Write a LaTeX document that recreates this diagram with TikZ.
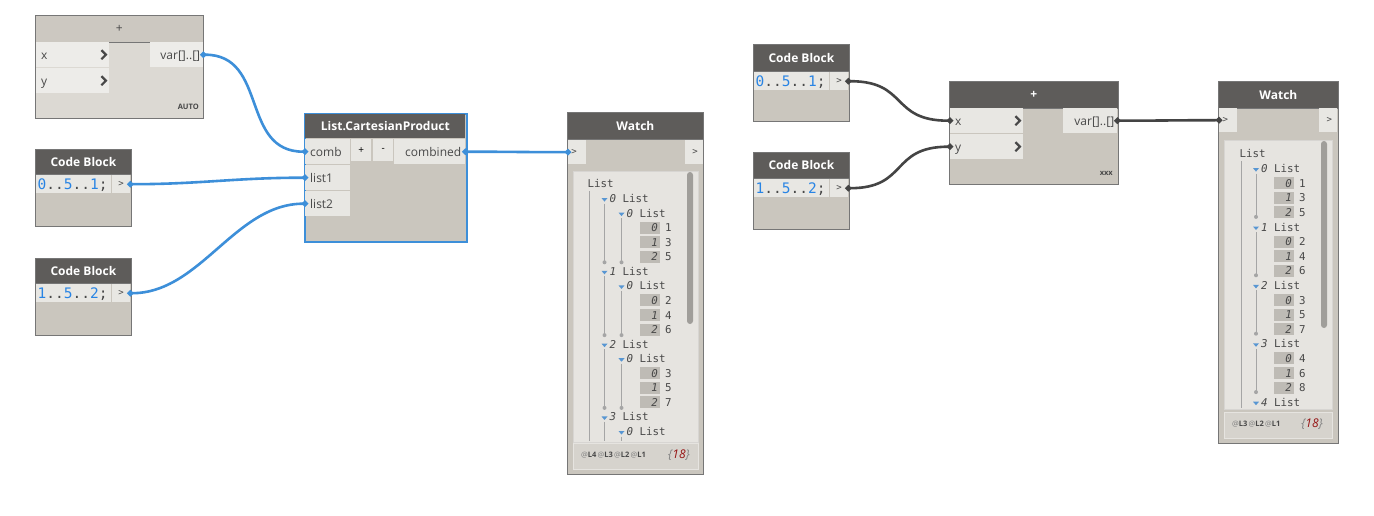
\documentclass[tikz,border=0pt]{standalone}
\usepackage{fontspec}
\setmainfont{Open Sans}
\newfontfamily\codefont{DejaVu Sans Mono}
\usetikzlibrary{arrows.meta}

\definecolor{headdark}{RGB}{94,92,90}
\definecolor{headlight}{RGB}{204,200,193}
\definecolor{bodygray}{RGB}{202,198,190}
\definecolor{bodylight}{RGB}{220,217,211}
\definecolor{portlight}{RGB}{232,231,227}
\definecolor{portpale}{RGB}{237,236,233}
\definecolor{framegray}{RGB}{118,118,118}
\definecolor{wireblue}{RGB}{61,143,217}
\definecolor{wiredark}{RGB}{68,68,68}
\definecolor{codeblue}{RGB}{40,132,228}
\definecolor{textgray}{RGB}{72,72,72}
\definecolor{panelgray}{RGB}{230,228,224}
\definecolor{footgray}{RGB}{214,211,205}
\definecolor{idxgray}{RGB}{190,187,181}
\definecolor{linegray}{RGB}{165,165,165}
\definecolor{triblue}{RGB}{88,150,210}
\definecolor{scrollgray}{RGB}{160,158,154}
\definecolor{countred}{RGB}{150,20,20}

\newcommand{\cbnum}[1]{\textcolor{codeblue}{#1}}
\newcommand{\lvtag}[1]{\textcolor{gray}{\mdseries @}L#1\,}
\newcommand{\itemcount}[1]{\textit{\textcolor{gray}{\{}\textcolor{countred}{#1}\textcolor{gray}{\}}}}

\tikzset{
  box/.style 2 args={anchor=north west, inner sep=0pt, minimum width=#1, minimum height=#2, draw=framegray, line width=0.8pt, fill=bodygray},
  head/.style 2 args={anchor=north west, inner sep=0pt, minimum width=#1, minimum height=#2, draw=framegray, line width=0.8pt, fill=headdark, text=white, font=\bfseries\fontsize{12}{14}\selectfont},
  port/.style 2 args={anchor=north west, inner sep=0pt, minimum width=#1, minimum height=#2, fill=portlight},
  ptext/.style={anchor=base west, inner sep=0pt, text=textgray, font=\fontsize{12}{14}\selectfont},
  code/.style={anchor=base west, inner sep=0pt, text=textgray, font=\codefont\fontsize{14.5}{16}\selectfont},
  pin/.style={inner sep=0pt, text=textgray, font=\codefont\fontsize{9}{10}\selectfont},
  tree/.style={inner sep=0pt, text=textgray, font=\codefont\fontsize{10.8}{12}\selectfont},
  tag/.style={inner sep=0pt, text=textgray, font=\bfseries\fontsize{7.5}{9}\selectfont},
  chev/.style={line width=2.2pt, draw=textgray},
  bwire/.style={line width=2.6pt, draw=wireblue, {Circle[length=6pt]}-{Circle[length=6pt]}, shorten <=-3pt, shorten >=-3pt},
  dwire/.style={bwire, draw=wiredark},
  treeline/.style={draw=linegray, line width=0.8pt},
}

\begin{document}
\begin{tikzpicture}[x=1pt, y=-1pt]
\fill[white] (0,0) rectangle (1374,516);
\useasboundingbox (0,0) rectangle (1374,516);

% left + node
\node[box={168}{103}, fill=bodylight] (addL) at (35,15) {};
\node[head={168}{27}, fill=headlight, text=textgray, font=\fontsize{12}{14}\selectfont] (addLhead) at (addL.north west) {+};
\node[port={73}{25}, fill=portpale] (addLx) at (36,42) {};
\node[port={73}{25}, fill=portpale] (addLy) at (36,68) {};
\node[port={53}{25}, fill=portpale] (addLout) at (150,42) {};
\node[ptext] (addLxt) at ([shift={(5,4.5)}]addLx.west) {x};
\node[ptext] (addLyt) at ([shift={(5,4.5)}]addLy.west) {y};
\draw[chev] ([shift={(-8,-4.5)}]addLx.east) -- ++(4.5,4.5) -- ++(-4.5,4.5);
\draw[chev] ([shift={(-8,-4.5)}]addLy.east) -- ++(4.5,4.5) -- ++(-4.5,4.5);
\node[ptext, anchor=base east] (addLoutt) at ([shift={(-3,4.5)}]addLout.east) {var[]..[]};
\node[tag, anchor=east] (addLauto) at (199,107) {AUTO};

% code blocks, left
\node[box={96}{77}] (cbA) at (35,149) {};
\node[head={96}{25}] (cbAhead) at (cbA.north west) {Code Block};
\node[port={75}{18}] (cbAcode) at (36,175) {};
\node[port={18}{18}] (cbAout) at (112,175) {};
\node[code] (cbAtxt) at ([shift={(1.5,5)}]cbAcode.west) {\cbnum{0}..\cbnum{5}..\cbnum{1};};
\node[pin] (cbApin) at (cbAout.center) {>};

\node[box={96}{77}] (cbB) at (35,258) {};
\node[head={96}{25}] (cbBhead) at (cbB.north west) {Code Block};
\node[port={75}{18}] (cbBcode) at (36,284) {};
\node[port={18}{18}] (cbBout) at (112,284) {};
\node[code] (cbBtxt) at ([shift={(1.5,5)}]cbBcode.west) {\cbnum{1}..\cbnum{5}..\cbnum{2};};
\node[pin] (cbBpin) at (cbBout.center) {>};

% List.CartesianProduct
\node[box={162}{128}, draw=wireblue, line width=2pt] (cp) at (304,113) {};
\node[head={160}{24}, draw=none] (cphead) at (305,114) {List.CartesianProduct};
\node[port={45}{25}] (cpComb) at (305,139) {};
\node[port={45}{25}] (cpL1) at (305,165) {};
\node[port={45}{25}] (cpL2) at (305,191) {};
\node[port={20}{22}, font=\fontsize{10}{12}\selectfont] (cpAdd) at (351,139) {+};
\node[port={20}{22}, font=\fontsize{10}{12}\selectfont] (cpDel) at (373,139) {-};
\node[port={71}{25}] (cpOut) at (394,139) {};
\node[ptext] (cpCombt) at ([shift={(5,4.5)}]cpComb.west) {comb};
\node[ptext] (cpL1t) at ([shift={(5,4.5)}]cpL1.west) {list1};
\node[ptext] (cpL2t) at ([shift={(5,4.5)}]cpL2.west) {list2};
\node[ptext, anchor=base east] (cpOutt) at ([shift={(-4,4.5)}]cpOut.east) {combined};

% left watch
\node[box={136}{362}] (wL) at (567,112) {};
\node[head={136}{27}] (wLhead) at (wL.north west) {Watch};
\node[port={18}{24}] (wLin) at (568,140) {};
\node[port={18}{24}] (wLout) at (685,140) {};
\node[pin] (wLinpin) at ([xshift=-3]wLin.center) {>};
\node[pin] (wLoutpin) at ([xshift=1]wLout.center) {>};
\node[box={125}{271}, fill=panelgray, draw=panelgray!85!gray] (wLpanel) at (573,171) {};
\node[box={125}{26}, fill=footgray, draw=panelgray] (wLfoot) at (573,443) {};
\fill[scrollgray, rounded corners=3pt] (687,172) rectangle (693,324);
\draw[treeline] (589,191) -- (589,441);
\node[tree, anchor=base west] (wLroot) at (587.5,188) {List};
\foreach \k/\lv/\t in {1/1/0,2/2/0,6/1/1,7/2/0,11/1/2,12/2/0,16/1/3,17/2/0} {
  \pgfmathsetmacro\ry{184+14.56*\k}
  \pgfmathsetmacro\tx{587.5+17*\lv}
  \fill[triblue] (\tx-3,\ry-0.5) -- (\tx+3,\ry-0.5) -- (\tx,\ry+3) -- cycle;
  \node[tree, anchor=base west] (wLlist\k) at (\tx+5,\ry+4) {\textit{\t} List};
}
\foreach \k/\i/\v in {3/0/1,4/1/3,5/2/5,8/0/2,9/1/4,10/2/6,13/0/3,14/1/5,15/2/7} {
  \pgfmathsetmacro\ry{184+14.56*\k}
  \fill[idxgray] (640,\ry-6) rectangle (660,\ry+6);
  \node[tree, anchor=base east] (wLidx\k) at (658,\ry+4) {\textit{\i}};
  \node[tree, anchor=base west] (wLval\k) at (665,\ry+4) {\v};
}
\foreach \a/\b/\lv in {1/5/1,6/10/1,11/15/1,2/5/2,7/10/2,12/15/2} {
  \pgfmathsetmacro\lx{587.5+17*\lv}
  \draw[treeline] (\lx,{184+14.56*\a+5}) -- (\lx,{184+14.56*\b+5});
  \fill[linegray] (\lx,{184+14.56*\b+5.5}) circle (2);
}
\draw[treeline] (604.5,{184+14.56*16+5}) -- (604.5,441);
\draw[treeline] (621.5,{184+14.56*17+5}) -- (621.5,441);
\node[tag, anchor=west] (wLtags) at (581,455) {\lvtag{4}\lvtag{3}\lvtag{2}\lvtag{1}};
\node[inner sep=0pt, anchor=east, font=\fontsize{12}{14}\selectfont] (wLcount) at (690,455) {\itemcount{18}};

% code blocks, right
\node[box={96}{77}] (cbC) at (753,44) {};
\node[head={96}{27}] (cbChead) at (cbC.north west) {Code Block};
\node[port={75}{18}] (cbCcode) at (754,72) {};
\node[port={18}{18}] (cbCout) at (830,72) {};
\node[code] (cbCtxt) at ([shift={(1.5,5)}]cbCcode.west) {\cbnum{0}..\cbnum{5}..\cbnum{1};};
\node[pin] (cbCpin) at (cbCout.center) {>};

\node[box={96}{77}] (cbD) at (753,152) {};
\node[head={96}{26}] (cbDhead) at (cbD.north west) {Code Block};
\node[port={75}{18}] (cbDcode) at (754,179) {};
\node[port={18}{18}] (cbDout) at (830,179) {};
\node[code] (cbDtxt) at ([shift={(1.5,5)}]cbDcode.west) {\cbnum{1}..\cbnum{5}..\cbnum{2};};
\node[pin] (cbDpin) at (cbDout.center) {>};

% right + node
\node[box={169}{103}] (addR) at (949,81) {};
\node[head={169}{27}] (addRhead) at (addR.north west) {+};
\node[port={73}{25}] (addRx) at (950,108) {};
\node[port={73}{25}] (addRy) at (950,134) {};
\node[port={54}{25}] (addRout) at (1063,108) {};
\node[ptext] (addRxt) at ([shift={(5,4.5)}]addRx.west) {x};
\node[ptext] (addRyt) at ([shift={(5,4.5)}]addRy.west) {y};
\draw[chev] ([shift={(-8,-4.5)}]addRx.east) -- ++(4.5,4.5) -- ++(-4.5,4.5);
\draw[chev] ([shift={(-8,-4.5)}]addRy.east) -- ++(4.5,4.5) -- ++(-4.5,4.5);
\node[ptext, anchor=base east] (addRoutt) at ([shift={(-3,4.5)}]addRout.east) {var[]..[]};
\node[tag, anchor=east] (addRxxx) at (1113,173) {xxx};

% right watch
\node[box={120}{362}] (wR) at (1218,81) {};
\node[head={120}{27}] (wRhead) at (wR.north west) {Watch};
\node[port={18}{24}] (wRin) at (1219,108) {};
\node[port={18}{24}] (wRout) at (1319,108) {};
\node[pin] (wRinpin) at ([xshift=-3]wRin.center) {>};
\node[pin] (wRoutpin) at ([xshift=1]wRout.center) {>};
\node[box={108}{269}, fill=panelgray, draw=panelgray!85!gray] (wRpanel) at (1224,140) {};
\node[box={108}{26}, fill=footgray, draw=panelgray] (wRfoot) at (1224,412) {};
\fill[scrollgray, rounded corners=3pt] (1321,141) rectangle (1327,328);
\draw[treeline] (1241,161) -- (1241,408);
\node[tree, anchor=base west] (wRroot) at (1239.5,158) {List};
\foreach \k/\t in {1/0,5/1,9/2,13/3,17/4} {
  \pgfmathsetmacro\ry{154+14.6*\k}
  \fill[triblue] (1253,\ry-0.5) -- (1259,\ry-0.5) -- (1256,\ry+3) -- cycle;
  \node[tree, anchor=base west] (wRlist\k) at (1261,\ry+4) {\textit{\t} List};
}
\foreach \k/\i/\v in {2/0/1,3/1/3,4/2/5,6/0/2,7/1/4,8/2/6,10/0/3,11/1/5,12/2/7,14/0/4,15/1/6,16/2/8} {
  \pgfmathsetmacro\ry{154+14.6*\k}
  \fill[idxgray] (1274,\ry-6) rectangle (1294,\ry+6);
  \node[tree, anchor=base east] (wRidx\k) at (1292,\ry+4) {\textit{\i}};
  \node[tree, anchor=base west] (wRval\k) at (1299,\ry+4) {\v};
}
\foreach \a/\b in {1/4,5/8,9/12,13/16} {
  \draw[treeline] (1256,{154+14.6*\a+5}) -- (1256,{154+14.6*\b+4.5});
  \fill[linegray] (1256,{154+14.6*\b+4.5}) circle (2);
}
\node[tag, anchor=west] (wRtags) at (1232,424) {\lvtag{3}\lvtag{2}\lvtag{1}};
\node[inner sep=0pt, anchor=east, font=\fontsize{12}{14}\selectfont] (wRcount) at (1323,424) {\itemcount{18}};

% wires
\draw[bwire] (addLout.east) .. controls +(65,0) and +(-65,0) .. (cpComb.west);
\draw[bwire] (cbAout.east) .. controls +(70,0) and +(-70,0) .. (cpL1.west);
\draw[bwire] (cbBout.east) .. controls +(70,0) and +(-70,0) .. (cpL2.west);
\draw[bwire] (cpOut.east) .. controls +(40,0) and +(-40,0) .. (wLin.west);
\draw[dwire] (cbCout.east) .. controls +(60,0) and +(-60,0) .. (addRx.west);
\draw[dwire] (cbDout.east) .. controls +(60,0) and +(-60,0) .. (addRy.west);
\draw[dwire] (addRout.east) .. controls +(40,0) and +(-40,0) .. (wRin.west);
\end{tikzpicture}
\end{document}
